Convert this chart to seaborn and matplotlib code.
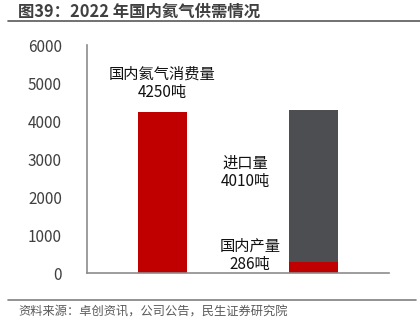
import matplotlib
matplotlib.use("Agg")
import matplotlib.pyplot as plt
import seaborn as sns
import pandas as pd
from matplotlib.lines import Line2D

categories = ["国内氦气消费量", "供给"]
consumption = [4250]
imports = [4010]
domestic = [286]
yticks = [0, 1000, 2000, 3000, 4000, 5000, 6000]

RED = "#C00000"
GRAY = "#4D4E51"
TXT = "#404040"

sns.set_theme(style="white")
plt.rcParams['font.family'] = ['Noto Sans CJK SC', 'DejaVu Sans']

fig = plt.figure(figsize=(4.2, 3.23), dpi=100)
ax = fig.add_axes([87/420, 50/323, 302/420, 228/323])

totals = pd.DataFrame({"cat": categories,
                       "val": [consumption[0], imports[0] + domestic[0]]})
bottoms = pd.DataFrame({"cat": categories, "val": [0, domestic[0]]})

sns.barplot(data=totals, x="cat", y="val", hue="cat",
            palette=[RED, GRAY], width=0.32, ax=ax, legend=False,
            saturation=1, edgecolor="none")
sns.barplot(data=bottoms, x="cat", y="val", color=RED,
            width=0.32, ax=ax, saturation=1, edgecolor="none")

ax.set_xlim(-0.5, 1.5)
ax.set_ylim(0, 6000)
ax.set_yticks(yticks)
ax.set_yticklabels([str(v) for v in yticks])
ax.set_xticks([])
ax.set_xlabel("")
ax.set_ylabel("")
ax.tick_params(axis="y", length=0, labelsize=11, labelcolor=TXT, pad=18)
for s in ["top", "right"]:
    ax.spines[s].set_visible(False)
for s in ["left", "bottom"]:
    ax.spines[s].set_color("#8C8C8C")
    ax.spines[s].set_linewidth(1.2)

ax.text(0, 5000, f"{categories[0]}\n{consumption[0]}吨", ha="center", va="center",
        fontsize=11, color="#111111", linespacing=1.1)
ax.text(0.55, 2640, f"进口量\n{imports[0]}吨", ha="center", va="center",
        fontsize=11, color="#111111", linespacing=1.1)
ax.text(0.58, 470, f"国内产量\n{domestic[0]}吨", ha="center", va="center",
        fontsize=11, color="#111111", linespacing=1.1)

fig.text(18/420, 1 - 12/323, "图39：2022 年国内氦气供需情况", ha="left", va="center",
         fontsize=11.8, fontweight="bold", color=TXT)
fig.add_artist(Line2D([8/420, 1.0], [1 - 21/323, 1 - 21/323], color="#595959", lw=1.2))
fig.add_artist(Line2D([8/420, 416/420], [1 - 300/323, 1 - 300/323], color="#7F7F7F", lw=1.2))
fig.text(18/420, 1 - 312/323, "资料来源：卓创资讯，公司公告，民生证券研究院", ha="left", va="center",
         fontsize=8.8, color="#595959")

fig.savefig("out.png", dpi=100)
